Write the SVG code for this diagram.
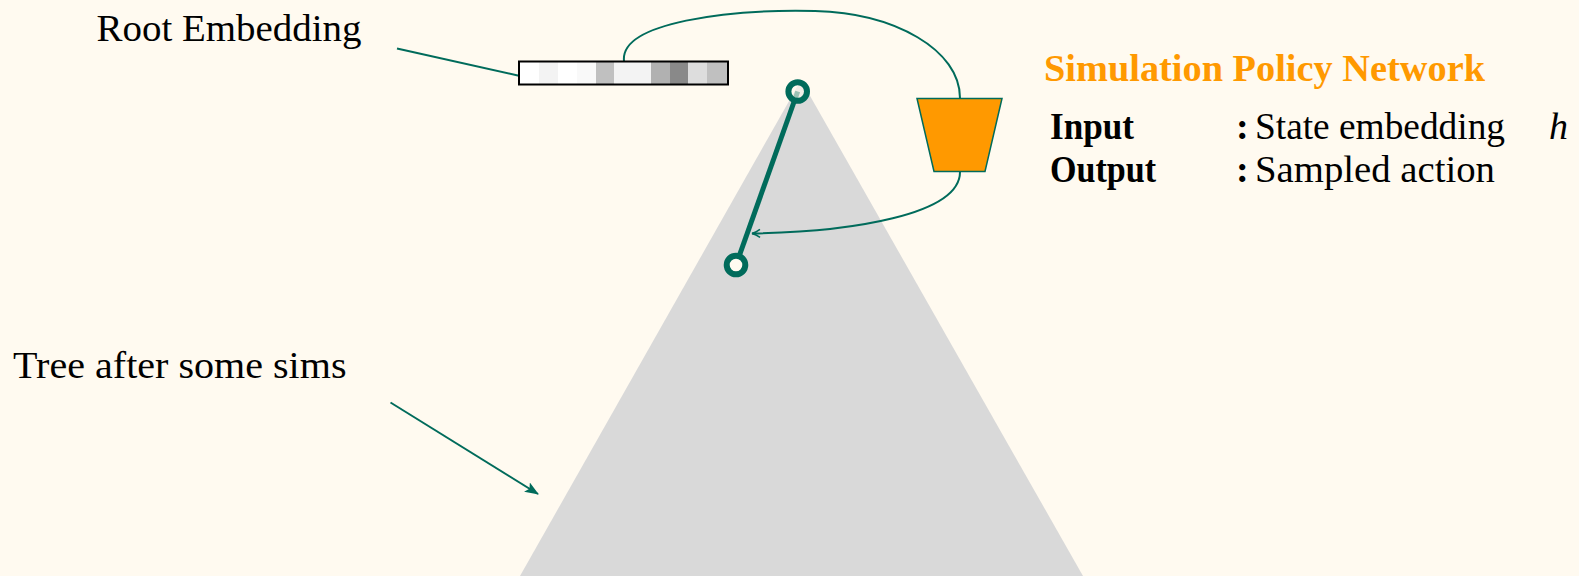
<svg xmlns="http://www.w3.org/2000/svg" width="1579" height="576" viewBox="0 0 1579 576">
<style>
.lbl{font-family:"Liberation Serif","Times New Roman",serif;font-size:38px;fill:#000}
.b{font-weight:bold}
.title{font-family:"Liberation Serif","Times New Roman",serif;font-size:38px;font-weight:bold;fill:#ff9900}
.conn{fill:none;stroke:#006b5b;stroke-width:2}
.cell{stroke:none}
</style>
<defs>
<marker id="tri" viewBox="0 0 14 11" refX="13" refY="5.5" markerWidth="14" markerHeight="11" markerUnits="userSpaceOnUse" orient="auto">
<path d="M0,0 L14,5.5 L0,11 L3,5.5 Z" fill="#006b5b"/>
</marker>
<marker id="vee" viewBox="0 0 10 10" refX="9" refY="5" markerWidth="10" markerHeight="10" markerUnits="userSpaceOnUse" orient="auto">
<path d="M1,1 Q5,4 9,5 Q5,6 1,9" fill="none" stroke="#006b5b" stroke-width="1.5"/>
</marker>
</defs>
<rect width="1579" height="576" fill="#fffaf0"/>

<g id="tree">
<polygon points="801,80 520,576 1083,576" fill="#d9d9d9"/>
</g>

<g id="connectors">
<line class="conn" x1="397" y1="48.5" x2="520" y2="76"/>
<line class="conn" x1="390.5" y1="402.5" x2="538" y2="494" marker-end="url(#tri)"/>
<path class="conn" d="M624,61 C620,22 730,9 815,11 C895,13 960,50 960,98"/>
<path class="conn" d="M960,172 C960,215 850,232 752,233.5" marker-end="url(#vee)"/>
</g>

<g id="root-embedding">
<rect x="520" y="62" width="207" height="22" fill="#fff" stroke="none"/>
<rect class="cell" x="539" y="62" width="19" height="22" fill="#f3f3f3"/>
<rect class="cell" x="558" y="62" width="19" height="22" fill="#ffffff"/>
<rect class="cell" x="577" y="62" width="19" height="22" fill="#f9f9f9"/>
<rect class="cell" x="596" y="62" width="18" height="22" fill="#c0c0c0"/>
<rect class="cell" x="614" y="62" width="37" height="22" fill="#f3f3f3"/>
<rect class="cell" x="651" y="62" width="19" height="22" fill="#b1b1b1"/>
<rect class="cell" x="670" y="62" width="18" height="22" fill="#898989"/>
<rect class="cell" x="688" y="62" width="19" height="22" fill="#dddddd"/>
<rect class="cell" x="707" y="62" width="20" height="22" fill="#c0c0c0"/>
<rect x="519" y="61.5" width="209" height="23" fill="none" stroke="#000" stroke-width="2"/>
</g>

<g id="policy-network">
<polygon points="917,98.5 1002,98.5 985,171.5 934,171.5" fill="#ff9900" stroke="#006b5b" stroke-width="1.5"/>
</g>

<g id="edge">
<line x1="797.7" y1="91.5" x2="736" y2="265" stroke="#006b5b" stroke-width="5"/>
</g>
<g id="node-root">
<circle cx="797.7" cy="91.5" r="9.3" fill="#fffaf0" fill-opacity="0.6" stroke="#006b5b" stroke-width="6"/>
</g>
<g id="node-child">
<circle cx="736" cy="265" r="9.3" fill="#fffaf0" stroke="#006b5b" stroke-width="6"/>
</g>

<g id="labels">
<text class="lbl" x="96.5" y="41" textLength="265" lengthAdjust="spacingAndGlyphs">Root Embedding</text>
<text class="lbl" x="13" y="378.3" textLength="333.5" lengthAdjust="spacingAndGlyphs">Tree after some sims</text>
<text class="title" x="1044" y="80.7" textLength="441" lengthAdjust="spacingAndGlyphs">Simulation Policy Network</text>
<text class="lbl b" x="1050" y="139" textLength="84" lengthAdjust="spacingAndGlyphs">Input</text>
<text class="lbl b" x="1050" y="182" textLength="106" lengthAdjust="spacingAndGlyphs">Output</text>
<text class="lbl" x="1236" y="139"><tspan font-weight="bold">:</tspan></text>
<text class="lbl" x="1236" y="182"><tspan font-weight="bold">:</tspan></text>
<text class="lbl" x="1255" y="139" textLength="250" lengthAdjust="spacingAndGlyphs">State embedding</text>
<text class="lbl" x="1549" y="139" font-style="italic" font-size="40">h</text>
<text class="lbl" x="1255" y="182" textLength="240" lengthAdjust="spacingAndGlyphs">Sampled action</text>
</g>
</svg>
